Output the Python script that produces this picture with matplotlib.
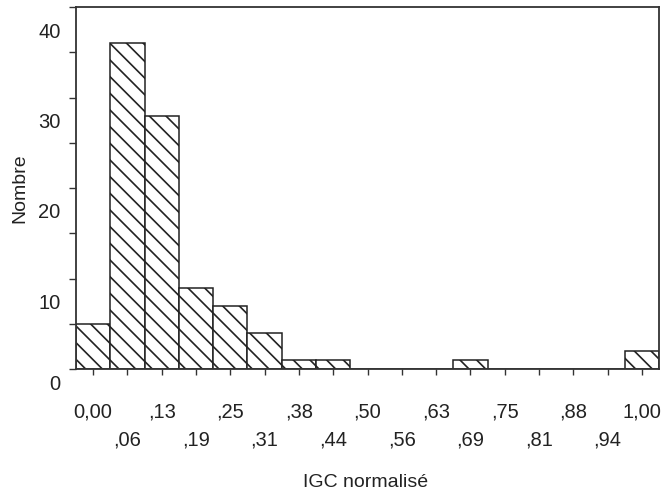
import numpy as np
import matplotlib
matplotlib.use("Agg")
import matplotlib.pyplot as plt
from matplotlib.transforms import ScaledTranslation

# histogram of normalised IGC values (17 bins, width 1/16)
tick_labels = ['0,00', ',06', ',13', ',19', ',25', ',31', ',38', ',44', ',50',
               ',56', ',63', ',69', ',75', ',81', ',88', ',94', '1,00']
counts = [5, 36, 28, 9, 7, 4, 1, 1, 0, 0, 0, 1, 0, 0, 0, 0, 2]
y_labels = ['0', '10', '20', '30', '40']

plt.rcParams['font.family'] = ['Liberation Sans', 'DejaVu Sans']
plt.rcParams['hatch.linewidth'] = 1.2

width = 1 / 16
centers = np.arange(len(counts)) * width

fig = plt.figure(figsize=(6.64, 4.97), dpi=100)
ax = fig.add_axes([76 / 664, 1 - 369 / 497, 583 / 664, 362 / 497])

ax.bar(centers, counts, width=width, facecolor='white', edgecolor='#222222',
       linewidth=1.1, hatch='\\\\')

ax.set_xlim(-width / 2, 1 + width / 2)
ax.set_ylim(0, 40)

# x ticks: alternate labels on two rows
ax.set_xticks(centers)
ax.set_xticklabels(tick_labels, fontsize=14.5, color='#222222')
ax.tick_params(axis='x', direction='out', length=4, width=1, pad=20, color='#333333')
for i, lab in enumerate(ax.get_xticklabels()):
    if i % 2 == 1:
        lab.set_transform(lab.get_transform() + ScaledTranslation(0, -28 / 100, fig.dpi_scale_trans))

# y ticks: every 5, labels every 10 (shifted down like the original)
ax.set_yticks(np.arange(0, 41, 5))
ax.set_yticklabels([y_labels[k // 2] if k % 2 == 0 else '' for k in range(9)],
                   fontsize=14.5, color='#222222')
ax.tick_params(axis='y', direction='out', length=5, width=1, pad=6, color='#333333')
for k, lab in enumerate(ax.get_yticklabels()):
    shift = 13 if k == 0 else 23
    lab.set_transform(lab.get_transform() + ScaledTranslation(0, -shift / 100, fig.dpi_scale_trans))

for s in ax.spines.values():
    s.set_color('#333333')
    s.set_linewidth(1.3)

ax.set_ylabel('Nombre', fontsize=14, color='#222222')
ax.yaxis.set_label_coords(-0.082, 0.50)
ax.set_xlabel('IGC normalisé', fontsize=14, color='#222222')
ax.xaxis.set_label_coords(0.496, -0.29)

fig.savefig('out.png', dpi=100)
